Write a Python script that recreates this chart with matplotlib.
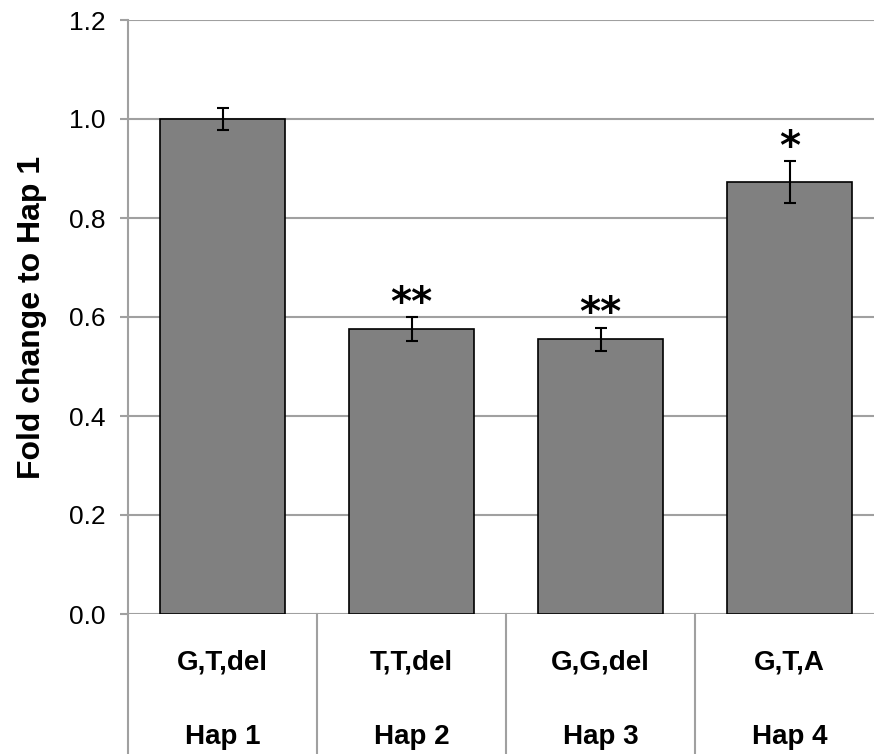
#!/usr/bin/env python3

import numpy as np
from matplotlib import pyplot as plt
from matplotlib import transforms

plt.rcParams['font.family'] = ['Liberation Sans', 'DejaVu Sans']

alleles = ['G,T,del', 'T,T,del', 'G,G,del', 'G,T,A']
haps = ['Hap 1', 'Hap 2', 'Hap 3', 'Hap 4']
fold = [1.0, 0.575, 0.555, 0.873]
err = [0.023, 0.024, 0.023, 0.042]
stars = ['', '**', '**', '*']

grid_col = '#a0a0a0'
x = np.arange(len(fold))

fig = plt.figure(figsize=(8.74, 7.54), dpi=100)
ax = fig.add_axes((128/874, 140/754, 756/874, 594/754))

ax.bar(x, fold, width=0.66, color='#808080', edgecolor='black', lw=1.2, zorder=3)
ax.errorbar(x, fold, yerr=err, fmt='none', ecolor='black', elinewidth=1.5,
            capsize=4.5, capthick=1.5, zorder=4)
for xi, v, e, s in zip(x, fold, err, stars):
    if s:
        ax.text(xi, v + e + 0.005, s, ha='center', va='baseline',
                size=29, family='DejaVu Sans', weight='bold')

ax.set_xlim(-0.5, 3.5)
ax.set_ylim(0, 1.2)
ticks = np.arange(0, 1.21, 0.2)
ax.set_yticks(ticks)
ax.set_yticklabels([f'{t:.1f}' for t in ticks], size=19)
ax.yaxis.grid(True, color=grid_col, lw=1.5, zorder=0)
ax.tick_params(axis='y', length=6, width=1.5, color=grid_col, pad=10)
ax.set_xticks([])
for side in ['top', 'right', 'bottom']:
    ax.spines[side].set_visible(False)
ax.spines['left'].set_color(grid_col)
ax.spines['left'].set_linewidth(1.5)
ax.set_ylabel('Fold change to Hap 1', size=23, weight='bold', labelpad=16)

# table under the axis
trans = transforms.blended_transform_factory(ax.transData, ax.transAxes)
for b in np.arange(-0.5, 4.0, 1.0):
    ax.plot([b, b], [0, -0.3], color=grid_col, lw=1.5, transform=trans, clip_on=False)
for xi, a, h in zip(x, alleles, haps):
    ax.text(xi, -0.081, a, ha='center', va='center', size=20, weight='bold', transform=trans)
    ax.text(xi, -0.207, h, ha='center', va='center', size=20, weight='bold', transform=trans)

plt.savefig('out.png', dpi=100)
